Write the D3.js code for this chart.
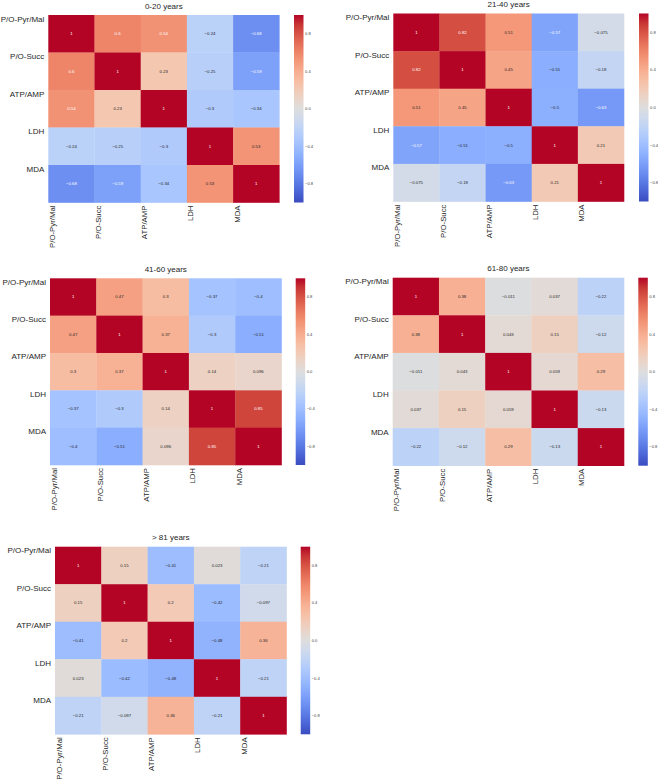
<!DOCTYPE html>
<html>
<head>
<meta charset="utf-8">
<script src="https://cdn.jsdelivr.net/npm/d3@7"></script>
<style>
  html, body { margin: 0; padding: 0; background: #fff; }
  svg { display: block; font-family: "Liberation Sans", Arial, Helvetica, sans-serif; }
</style>
</head>
<body>
<svg id="chart" width="658" height="782"></svg>
<script>
// ---------- data ----------
const variables = ["P/O-Pyr/Mal", "P/O-Succ", "ATP/AMP", "LDH", "MDA"];
const groupTitles = ["0-20 years", "21-40 years", "41-60 years", "61-80 years", "> 81 years"];
const colorbarTicks = [0.8, 0.4, 0.0, -0.4, -0.8];

const corr0to20 = [
  [1, 0.6, 0.54, -0.24, -0.68],
  [0.6, 1, 0.23, -0.25, -0.59],
  [0.54, 0.23, 1, -0.3, -0.34],
  [-0.24, -0.25, -0.3, 1, 0.53],
  [-0.68, -0.59, -0.34, 0.53, 1]
];
const corr21to40 = [
  [1, 0.82, 0.51, -0.57, -0.075],
  [0.82, 1, 0.45, -0.51, -0.18],
  [0.51, 0.45, 1, -0.5, -0.63],
  [-0.57, -0.51, -0.5, 1, 0.21],
  [-0.075, -0.18, -0.63, 0.21, 1]
];
const corr41to60 = [
  [1, 0.47, 0.3, -0.37, -0.4],
  [0.47, 1, 0.37, -0.3, -0.51],
  [0.3, 0.37, 1, 0.14, 0.096],
  [-0.37, -0.3, 0.14, 1, 0.85],
  [-0.4, -0.51, 0.096, 0.85, 1]
];
const corr61to80 = [
  [1, 0.38, -0.011, 0.037, -0.22],
  [0.38, 1, 0.043, 0.15, -0.12],
  [-0.011, 0.043, 1, 0.059, 0.29],
  [0.037, 0.15, 0.059, 1, -0.13],
  [-0.22, -0.12, 0.29, -0.13, 1]
];
const corrOver81 = [
  [1, 0.15, -0.41, 0.023, -0.21],
  [0.15, 1, 0.2, -0.42, -0.097],
  [-0.41, 0.2, 1, -0.48, 0.36],
  [0.023, -0.42, -0.48, 1, -0.21],
  [-0.21, -0.097, 0.36, -0.21, 1]
];
const matrices = [corr0to20, corr21to40, corr41to60, corr61to80, corrOver81];

// ---------- coolwarm colormap (matplotlib) ----------
const coolwarmStops = [
  [59,76,192],[68,90,204],[77,104,215],[87,117,225],[98,130,234],[108,142,241],
  [119,154,247],[130,165,251],[141,176,254],[152,185,255],[163,194,255],[174,201,253],
  [184,208,249],[194,213,244],[204,217,238],[213,219,230],[221,221,221],[229,216,209],
  [236,211,197],[241,204,184],[245,196,172],[247,187,160],[247,177,148],[247,166,137],
  [244,154,123],[241,141,112],[236,127,99],[229,112,89],[222,96,77],[213,80,66],
  [203,62,56],[192,40,47],[180,4,38]
].map(c => d3.rgb(c[0], c[1], c[2]).toString());
const coolwarm = d3.piecewise(d3.interpolateRgb, coolwarmStops);
const color = d3.scaleSequential(coolwarm).domain([-1, 1]);

function textColorFor(c) {
  const rgb = d3.rgb(c);
  const lin = v => { v /= 255; return v <= 0.03928 ? v / 12.92 : Math.pow((v + 0.055) / 1.055, 2.4); };
  const lum = 0.2126 * lin(rgb.r) + 0.7152 * lin(rgb.g) + 0.0722 * lin(rgb.b);
  return lum > 0.408 ? "#262626" : "#ffffff";
}

// ---------- layout ----------
const panels = [
  { left: 48.3, top: 15.0, w: 231, h: 187.5, cbx: 294 },
  { left: 393.3, top: 13.5, w: 230.7, h: 188, cbx: 639 },
  { left: 50.0, top: 278.3, w: 231.5, h: 186.7, cbx: 295.7 },
  { left: 392.7, top: 277.7, w: 231.3, h: 188, cbx: 638.3 },
  { left: 55.0, top: 546.7, w: 231.5, h: 187.6, cbx: 300.7 }
];

const svg = d3.select("#chart");
const defs = svg.append("defs");

const fmt = v => {
  if (v === 1) return "1";
  return String(v).replace("-", "\u2212");
};

panels.forEach((p, i) => {
  const m = matrices[i];
  const g = svg.append("g");
  const x = d3.scaleBand().domain(d3.range(variables.length)).range([p.left, p.left + p.w]);
  const y = d3.scaleBand().domain(d3.range(variables.length)).range([p.top, p.top + p.h]);

  const cells = [];
  m.forEach((row, r) => row.forEach((v, c) => cells.push({ r, c, v })));

  g.selectAll("rect.cell").data(cells).join("rect")
    .attr("class", "cell")
    .attr("x", d => x(d.c))
    .attr("y", d => y(d.r))
    .attr("width", x.bandwidth() + 0.3)
    .attr("height", y.bandwidth() + 0.3)
    .attr("fill", d => color(d.v));

  g.selectAll("text.annot").data(cells).join("text")
    .attr("class", "annot")
    .attr("x", d => x(d.c) + x.bandwidth() / 2)
    .attr("y", d => y(d.r) + y.bandwidth() / 2)
    .attr("text-anchor", "middle")
    .attr("dominant-baseline", "central")
    .attr("font-size", 4.3)
    .attr("fill", d => textColorFor(color(d.v)))
    .text(d => fmt(d.v));

  // title
  g.append("text")
    .attr("x", p.left + p.w / 2)
    .attr("y", p.top - 6.5)
    .attr("text-anchor", "middle")
    .attr("font-size", 8)
    .attr("fill", "#262626")
    .text(groupTitles[i]);

  // row labels (ticks at row top edges)
  g.selectAll("text.ylab").data(variables).join("text")
    .attr("class", "ylab")
    .attr("x", p.left - 4)
    .attr("y", (d, k) => y(k) + 4)
    .attr("text-anchor", "end")
    .attr("dominant-baseline", "central")
    .attr("font-size", 8)
    .attr("fill", "#262626")
    .text(d => d);

  // column labels (ticks at column left edges), rotated
  g.selectAll("text.xlab").data(variables).join("text")
    .attr("class", "xlab")
    .attr("transform", (d, k) => `translate(${x(k) + 4},${p.top + p.h + 3}) rotate(-90)`)
    .attr("text-anchor", "end")
    .attr("dominant-baseline", "central")
    .attr("font-size", 7.8)
    .attr("fill", "#262626")
    .text(d => d);

  // colorbar
  const gradId = "cw" + i;
  const grad = defs.append("linearGradient").attr("id", gradId)
    .attr("x1", 0).attr("y1", 1).attr("x2", 0).attr("y2", 0);
  d3.range(0, 1.0001, 0.05).forEach(t => {
    grad.append("stop").attr("offset", t).attr("stop-color", coolwarm(t));
  });
  const cbScale = d3.scaleLinear().domain([-1, 1]).range([p.top + p.h, p.top]);
  g.append("rect")
    .attr("x", p.cbx).attr("y", p.top)
    .attr("width", 9.5).attr("height", p.h)
    .attr("fill", `url(#${gradId})`);
  g.selectAll("text.cbt").data(colorbarTicks).join("text")
    .attr("class", "cbt")
    .attr("x", p.cbx + 11)
    .attr("y", d => cbScale(d))
    .attr("dominant-baseline", "central")
    .attr("font-size", 4.1)
    .attr("fill", "#444")
    .text(d => (d < 0 ? "\u2212" : "") + Math.abs(d).toFixed(1));
});
</script>
</body>
</html>
